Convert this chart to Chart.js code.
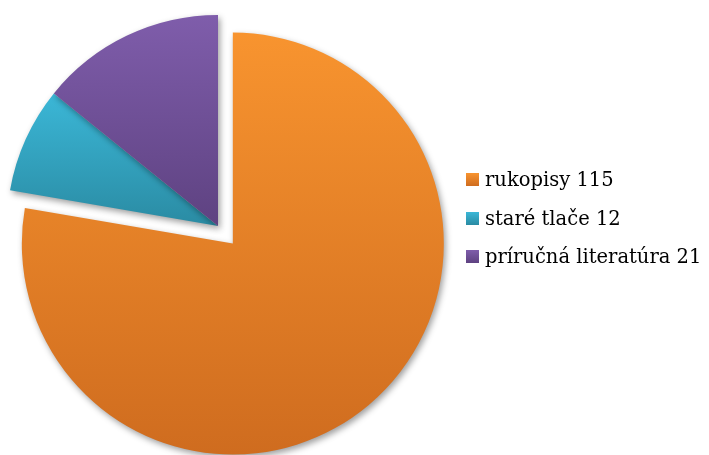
<!DOCTYPE html>
<html>
<head>
<meta charset="utf-8">
<script src="https://cdn.jsdelivr.net/npm/chart.js@4/dist/chart.umd.min.js"></script>
<style>
  html, body { margin: 0; padding: 0; background: #fff; }
  #wrap { position: relative; width: 709px; height: 455px; overflow: hidden; }
  #c { position: absolute; left: 0; top: 0; }
  .lg { position: absolute; left: 466px; height: 20px; white-space: nowrap;
        font-family: "DejaVu Serif", serif; font-size: 19.5px; line-height: 20px; color: #000; }
  .sw { position: absolute; left: 0; top: 3px; width: 13px; height: 13px; }
  .tx { position: absolute; left: 19px; top: 0; }
</style>
</head>
<body>
<div id="wrap">
  <canvas id="c" width="709" height="455"></canvas>
</div>
<script>
// ---- data ----
const labels = ['rukopisy', 'staré tlače', 'príručná literatúra'];
const values = [115, 12, 21];
// ---- styles ----
const colorsTop = ['#F8942F', '#3BB7D7', '#7F5DAB'];
const colorsBottom = ['#CF6C1F', '#2A8BA3', '#5E4281'];
const explode = [23, 0, 0];
const RADIUS = 211;

function sliceExtent(area, i) {
  const cx = (area.left + area.right) / 2, cy = (area.top + area.bottom) / 2;
  const total = values.reduce((a, b) => a + b, 0);
  let cum = 0;
  for (let k = 0; k < i; k++) cum += values[k];
  const a0 = -Math.PI / 2 + 2 * Math.PI * cum / total;
  const a1 = a0 + 2 * Math.PI * values[i] / total;
  const mid = (a0 + a1) / 2;
  const oy = Math.sin(mid) * explode[i];
  let ymin = cy, ymax = cy;
  for (let s = 0; s <= 200; s++) {
    const a = a0 + (a1 - a0) * s / 200;
    const y = cy + Math.sin(a) * RADIUS;
    ymin = Math.min(ymin, y); ymax = Math.max(ymax, y);
  }
  return [ymin + oy, ymax + oy];
}

function sliceFill(context) {
  const i = context.dataIndex;
  const chart = context.chart;
  const area = chart.chartArea;
  if (!area) return colorsTop[i];
  const [y0, y1] = sliceExtent(area, i);
  const g = chart.ctx.createLinearGradient(0, y0, 0, y1);
  g.addColorStop(0, colorsTop[i]);
  g.addColorStop(1, colorsBottom[i]);
  return g;
}

const explodePlugin = {
  id: 'explodeSlice',
  afterUpdate(chart) {
    const meta = chart.getDatasetMeta(0);
    meta.data.forEach((el, i) => {
      if (!explode[i]) return;
      const mid = (el.startAngle + el.endAngle) / 2;
      el.x += Math.cos(mid) * explode[i];
      el.y += Math.sin(mid) * explode[i];
    });
  }
};

const shadowPlugin = {
  id: 'sliceShadow',
  beforeDatasetsDraw(chart) {
    const ctx = chart.ctx;
    ctx.save();
    ctx.shadowColor = 'rgba(0,0,0,0.38)';
    ctx.shadowBlur = 6;
    ctx.shadowOffsetX = 2;
    ctx.shadowOffsetY = 3;
  },
  afterDatasetsDraw(chart) {
    chart.ctx.restore();
  }
};

new Chart(document.getElementById('c'), {
  type: 'pie',
  data: {
    labels: labels,
    datasets: [{
      data: values,
      backgroundColor: sliceFill,
      borderWidth: 0,
      radius: RADIUS,
      hoverOffset: 0
    }]
  },
  options: {
    responsive: false,
    animation: false,
    events: [],
    layout: { padding: { left: 0, top: 0, right: 273, bottom: 3 } },
    plugins: { legend: { display: false }, tooltip: { enabled: false } }
  },
  plugins: [explodePlugin, shadowPlugin]
});

// ---- legend (HTML text) ----
const wrap = document.getElementById('wrap');
const rowTops = [170, 209, 247];
labels.forEach((lab, i) => {
  const row = document.createElement('div');
  row.className = 'lg';
  row.style.top = rowTops[i] + 'px';
  const sw = document.createElement('div');
  sw.className = 'sw';
  sw.style.background = 'linear-gradient(' + colorsTop[i] + ',' + colorsBottom[i] + ')';
  const tx = document.createElement('span');
  tx.className = 'tx';
  tx.textContent = lab + ' ' + values[i];
  row.appendChild(sw); row.appendChild(tx);
  wrap.appendChild(row);
});
</script>
</body>
</html>
